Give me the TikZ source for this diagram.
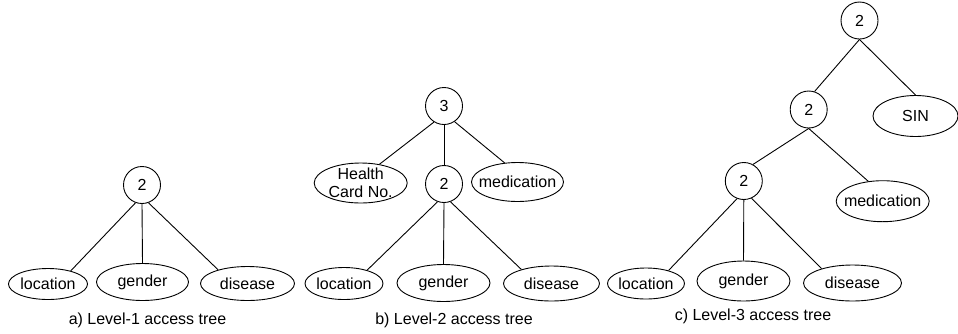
\documentclass[tikz,border=0pt]{standalone}
\usepackage{fontspec}
\setmainfont{Liberation Sans}
\usetikzlibrary{shapes.geometric}
\begin{document}
\begin{tikzpicture}[x=1pt,y=-1pt,
  every node/.style={font=\fontsize{16}{18.5}\selectfont},
  thr/.style={draw, circle, minimum size=37pt, inner sep=0pt, line width=0.9pt},
  attr/.style={draw, ellipse, inner sep=0pt, line width=0.9pt},
  conn/.style={line width=0.9pt},
  captext/.style={inner sep=0pt}]
\useasboundingbox (0,0) rectangle (958,333);
% ---------- tree a ----------
\node[thr] (a2) at (142,185) {2};
\node[attr, minimum width=79pt, minimum height=31pt, label=center:location] (aloc) at (48,284) {};
\node[attr, minimum width=92pt, minimum height=37pt, label=center:gender] (agen) at (142.5,282) {};
\node[attr, minimum width=94pt, minimum height=34pt, label=center:disease] (adis) at (247.5,283.5) {};
\node[captext] (acap) at (147.5,320) {a) Level-1 access tree};
\draw[conn] (a2.-110) -- (aloc.30);
\draw[conn] (a2.south) -- (agen.north);
\draw[conn] (a2.-70) -- (adis.155);
% ---------- tree b ----------
\node[thr] (b3) at (444,106) {3};
\node[attr, minimum width=93pt, minimum height=40pt, label={[align=center]center:Health\\Card No.}] (bhc) at (360.7,183) {};
\node[thr] (b2) at (444,184) {2};
\node[attr, minimum width=92pt, minimum height=39pt, label=center:medication] (bmed) at (517.5,182) {};
\node[attr, minimum width=78pt, minimum height=32pt, label=center:location] (bloc) at (344,283.5) {};
\node[attr, minimum width=93pt, minimum height=37pt, label=center:gender] (bgen) at (443.5,283) {};
\node[attr, minimum width=96pt, minimum height=35pt, label=center:disease] (bdis) at (551.5,283.5) {};
\node[captext] (bcap) at (454,320) {b) Level-2 access tree};
\draw[conn] (b3.-122) -- (bhc.45);
\draw[conn] (b3.south) -- (b2.north);
\draw[conn] (b3.-56) -- (bmed.124);
\draw[conn] (b2.-110) -- (bloc.30);
\draw[conn] (b2.south) -- (bgen.north);
\draw[conn] (b2.-70) -- (bdis.155);
% ---------- tree c ----------
\node[thr] (ctop) at (859.5,20.5) {2};
\node[thr] (cmid) at (808.7,109.5) {2};
\node[attr, minimum width=85pt, minimum height=41pt, label=center:SIN] (csin) at (915.5,116) {};
\node[thr] (clow) at (743.8,181) {2};
\node[attr, minimum width=93pt, minimum height=41pt, label=center:medication] (cmed) at (882.7,201.2) {};
\node[attr, minimum width=77pt, minimum height=31pt, label=center:location] (cloc) at (646,283.5) {};
\node[attr, minimum width=93pt, minimum height=40pt, label=center:gender] (cgen) at (743.5,281) {};
\node[attr, minimum width=98pt, minimum height=36pt, label=center:disease] (cdis) at (852.5,283) {};
\node[captext] (ccap) at (753,316.5) {c) Level-3 access tree};
\draw[conn] (ctop.south) -- (cmid.72);
\draw[conn] (ctop.south) -- (csin.north);
\draw[conn] (cmid.south) -- (clow.61);
\draw[conn] (cmid.south) -- (cmed.126);
\draw[conn] (clow.-111) -- (cloc.30);
\draw[conn] (clow.south) -- (cgen.north);
\draw[conn] (clow.-66) -- (cdis.155);
\end{tikzpicture}
\end{document}
